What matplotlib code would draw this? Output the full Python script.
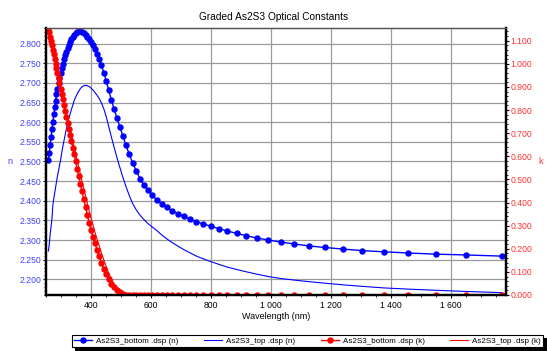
import numpy as np
import matplotlib
matplotlib.use("Agg")
import matplotlib.pyplot as plt
from matplotlib.ticker import MultipleLocator, FuncFormatter, FormatStrFormatter

plt.rcParams['font.family'] = ['Liberation Sans', 'DejaVu Sans']

# wavelength grid (nm)
wl = [258, 261, 264, 267, 270, 273, 276, 279, 282, 285, 288, 292, 295, 299, 302,
      306, 310, 314, 318, 322, 326, 331, 335, 340, 344, 349, 354, 359, 365, 370,
      376, 382, 388, 394, 400, 407, 413, 420, 428, 435, 443, 451, 459, 468, 477,
      486, 496, 506, 517, 528, 539, 551, 564, 577, 590, 605, 620, 636, 653, 670,
      689, 709, 729, 752, 775, 800, 827, 855, 886, 919, 954, 992, 1033, 1078, 1127,
      1181, 1240, 1305, 1378, 1459, 1550, 1653, 1771]

n_bottom = [2.503, 2.522, 2.542, 2.562, 2.582, 2.601, 2.620, 2.638, 2.655, 2.671,
            2.685, 2.699, 2.712, 2.725, 2.737, 2.749, 2.760, 2.771, 2.780, 2.789,
            2.797, 2.805, 2.812, 2.818, 2.823, 2.827, 2.830, 2.832, 2.832, 2.830,
            2.827, 2.823, 2.818, 2.812, 2.805, 2.796, 2.786, 2.774, 2.760, 2.745,
            2.726, 2.705, 2.682, 2.657, 2.634, 2.612, 2.589, 2.566, 2.541, 2.518,
            2.497, 2.476, 2.456, 2.440, 2.427, 2.414, 2.402, 2.392, 2.383, 2.375,
            2.367, 2.360, 2.354, 2.347, 2.341, 2.335, 2.329, 2.323, 2.317, 2.311,
            2.305, 2.300, 2.295, 2.290, 2.285, 2.281, 2.277, 2.273, 2.270, 2.267,
            2.264, 2.262, 2.259]

n_top = [2.272, 2.290, 2.315, 2.335, 2.355, 2.390, 2.405, 2.420, 2.434, 2.448,
         2.462, 2.477, 2.490, 2.505, 2.520, 2.537, 2.553, 2.568, 2.583, 2.597,
         2.610, 2.622, 2.633, 2.645, 2.655, 2.664, 2.672, 2.679, 2.686, 2.690,
         2.693, 2.694, 2.693, 2.691, 2.687, 2.682, 2.676, 2.669, 2.660, 2.649,
         2.634, 2.614, 2.590, 2.563, 2.537, 2.512, 2.486, 2.461, 2.436, 2.413,
         2.393, 2.377, 2.363, 2.352, 2.342, 2.333, 2.324, 2.313, 2.303, 2.294,
         2.285, 2.276, 2.268, 2.259, 2.252, 2.245, 2.238, 2.231, 2.225, 2.219,
         2.213, 2.207, 2.202, 2.198, 2.194, 2.190, 2.186, 2.182, 2.178, 2.175,
         2.172, 2.169, 2.166]

k_bottom = [1.152, 1.136, 1.118, 1.099, 1.080, 1.061, 1.041, 1.021, 1.001, 0.980,
            0.959, 0.937, 0.915, 0.892, 0.869, 0.846, 0.822, 0.797, 0.772, 0.746,
            0.720, 0.693, 0.665, 0.637, 0.608, 0.578, 0.547, 0.515, 0.482, 0.448,
            0.414, 0.380, 0.346, 0.313, 0.282, 0.252, 0.224, 0.196, 0.167, 0.140,
            0.114, 0.090, 0.068, 0.049, 0.033, 0.021, 0.012, 0.006, 0.002, 0.0,
            0.0, 0.0, 0.0, 0.0, 0.0, 0.0, 0.0, 0.0, 0.0, 0.0,
            0.0, 0.0, 0.0, 0.0, 0.0, 0.0, 0.0, 0.0, 0.0, 0.0,
            0.0, 0.0, 0.0, 0.0, 0.0, 0.0, 0.0, 0.0, 0.0, 0.0,
            0.0, 0.0, 0.0]

k_top = [1.150, 1.133, 1.116, 1.098, 1.080, 1.062, 1.043, 1.024, 1.005, 0.985,
         0.965, 0.945, 0.924, 0.903, 0.881, 0.859, 0.837, 0.814, 0.790, 0.766,
         0.742, 0.717, 0.691, 0.665, 0.638, 0.610, 0.582, 0.553, 0.523, 0.492,
         0.461, 0.429, 0.397, 0.365, 0.334, 0.303, 0.273, 0.243, 0.212, 0.182,
         0.152, 0.123, 0.096, 0.071, 0.049, 0.031, 0.017, 0.007, 0.002, 0.0,
         0.0, 0.0, 0.0, 0.0, 0.0, 0.0, 0.0, 0.0, 0.0, 0.0,
         0.0, 0.0, 0.0, 0.0, 0.0, 0.0, 0.0, 0.0, 0.0, 0.0,
         0.0, 0.0, 0.0, 0.0, 0.0, 0.0, 0.0, 0.0, 0.0, 0.0,
         0.0, 0.0, 0.0]

labels = ['As2S3_bottom .dsp (n)', 'As2S3_top .dsp (n)',
          'As2S3_bottom .dsp (k)', 'As2S3_top .dsp (k)']

blue = '#0000ff'
red = '#ff0000'
W, H = 547, 351

fig = plt.figure(figsize=(W / 100, H / 100), dpi=100)
ax = fig.add_axes([46 / W, 1 - 295 / H, 460 / W, 267 / H])
ax2 = ax.twinx()

l1, = ax.plot(wl, n_bottom, color=blue, lw=1.0, marker='o', ms=3.6, mec=blue, label=labels[0])
l2, = ax.plot(wl, n_top, color=blue, lw=0.8, label=labels[1])
l3, = ax2.plot(wl, k_bottom, color=red, lw=1.0, marker='o', ms=3.6, mec=red, label=labels[2])
l4, = ax2.plot(wl, k_top, color=red, lw=0.8, label=labels[3])

ax.set_xlim(250, 1785)
ax.set_ylim(2.16, 2.84)
ax2.set_ylim(0, 1.155)

ax.xaxis.set_major_locator(MultipleLocator(200))
ax.xaxis.set_minor_locator(MultipleLocator(50))
ax.xaxis.set_major_formatter(FuncFormatter(lambda v, p: f"{v:,.0f}".replace(",", " ")))
ax.yaxis.set_major_locator(MultipleLocator(0.05))
ax.yaxis.set_minor_locator(MultipleLocator(0.01))
ax.yaxis.set_major_formatter(FormatStrFormatter('%.3f'))
ax2.yaxis.set_major_locator(MultipleLocator(0.1))
ax2.yaxis.set_minor_locator(MultipleLocator(0.02))
ax2.yaxis.set_major_formatter(FormatStrFormatter('%.3f'))

ax.grid(True, which='major', color='#9a9a9a', lw=0.9)
ax.set_axisbelow(True)

ax.tick_params(axis='x', which='major', length=2.5, width=0.8, pad=2, labelsize=6.2, colors='black')
ax.tick_params(axis='x', which='minor', length=1.5, width=0.6)
ax.tick_params(axis='y', which='major', length=2.5, width=0.8, pad=1, labelsize=6.2, labelcolor='#4040ff')
ax.tick_params(axis='y', which='minor', length=1.5, width=0.6)
ax2.tick_params(axis='y', which='major', length=2.5, width=0.8, pad=1, labelsize=6.2, labelcolor='#ff3030')
ax2.tick_params(axis='y', which='minor', length=1.5, width=0.6)

for a in (ax, ax2):
    for s in ('left', 'right', 'bottom'):
        a.spines[s].set_linewidth(1.6)
        a.spines[s].set_color('black')
    a.spines['top'].set_linewidth(0.9)
    a.spines['top'].set_color('#555555')

ax.set_xlabel('Wavelength (nm)', fontsize=6.5, labelpad=1)
ax.set_ylabel('n', fontsize=6.5, color='#4040ff', rotation=0, va='center')
ax.yaxis.set_label_coords(-0.078, 0.5)
ax2.set_ylabel('k', fontsize=6.5, color='#ff3030', rotation=0, va='center')
ax2.yaxis.set_label_coords(1.076, 0.5)

fig.text(0.5, 1 - 17 / H, 'Graded As2S3 Optical Constants', ha='center', va='center', fontsize=7.3)

leg = fig.legend([l1, l2, l3, l4], labels, loc='lower left', ncol=4, mode='expand',
                 bbox_to_anchor=(72 / W, 4 / H, 471 / W, 10 / H), fontsize=5.8,
                 frameon=True, fancybox=False, edgecolor='black', borderpad=0.25,
                 handlelength=2.2, handletextpad=0.5, columnspacing=1.0,
                 shadow={'color': 'black', 'alpha': 1}, borderaxespad=0)
leg.get_frame().set_linewidth(0.8)

fig.savefig('out.png', dpi=100)
